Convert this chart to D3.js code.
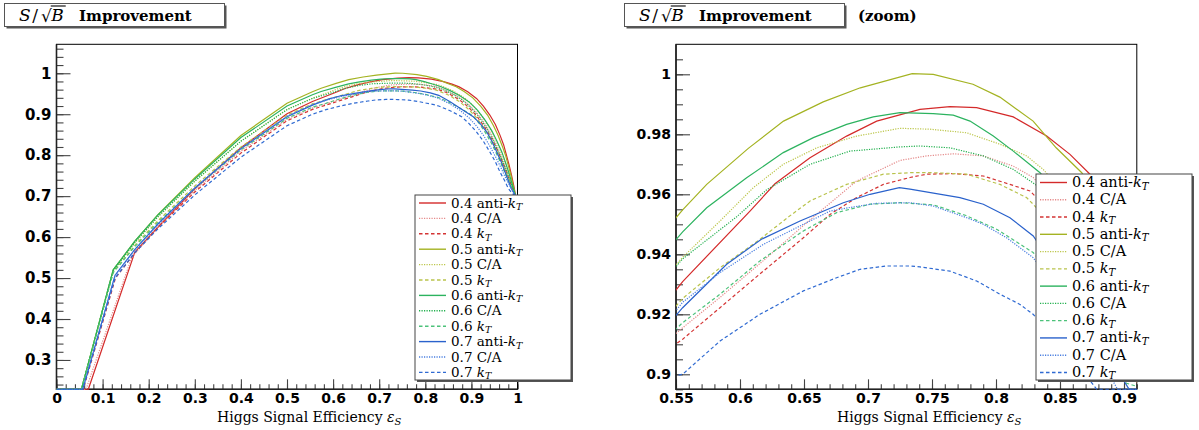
<!DOCTYPE html>
<html><head><meta charset="utf-8">
<script src="https://cdn.jsdelivr.net/npm/d3@7"></script>
<style>body{margin:0;background:#fff}svg{display:block}</style>
</head><body>
<svg id="c" width="1199" height="430"></svg>
<script>
// ---------- DATA ----------
const radii = ["0.4","0.4","0.4","0.5","0.5","0.5","0.6","0.6","0.6","0.7","0.7","0.7"];
const algos = ["anti","CA","kt","anti","CA","kt","anti","CA","kt","anti","CA","kt"];

const s04anti = [[0,0],[0.069,0],[0.17,0.5636],[0.224,0.629],[0.3,0.718],[0.4,0.818],[0.5,0.901],[0.5552,0.9309],[0.6078,0.9544],[0.6273,0.9635],[0.6547,0.9722],[0.6833,0.9794],[0.7068,0.9844],[0.7406,0.9883],[0.764,0.9892],[0.7849,0.9889],[0.8135,0.9858],[0.8396,0.9794],[0.8578,0.9733],[0.8734,0.9667],[0.892,0.955],[0.911,0.9386],[0.926,0.92],[0.94,0.898],[0.952,0.875],[0.962,0.849],[0.97,0.825],[0.976,0.80],[0.982,0.775],[0.987,0.751],[0.992,0.725],[0.996,0.70]];
const s04ca = [[0,0],[0.064,0],[0.163,0.55],[0.22,0.625],[0.3,0.714],[0.4,0.81],[0.5,0.888],[0.5552,0.9155],[0.584,0.9255],[0.618,0.9378],[0.652,0.9505],[0.691,0.9644],[0.725,0.9713],[0.7458,0.9728],[0.7666,0.9735],[0.7901,0.9728],[0.8135,0.9694],[0.8291,0.9656],[0.85,0.956],[0.872,0.943],[0.893,0.925],[0.912,0.903],[0.928,0.879],[0.942,0.853],[0.954,0.826],[0.964,0.80],[0.973,0.774],[0.981,0.748],[0.989,0.724],[0.996,0.70]];
const s04kt = [[0,0],[0.058,0],[0.128,0.50],[0.17,0.562],[0.22,0.624],[0.3,0.71],[0.4,0.805],[0.5,0.884],[0.5552,0.9117],[0.5844,0.9222],[0.6182,0.9344],[0.6495,0.9455],[0.6703,0.9533],[0.6911,0.9589],[0.712,0.9633],[0.7328,0.9656],[0.7458,0.9667],[0.7666,0.9669],[0.7901,0.9661],[0.8109,0.9633],[0.8266,0.9611],[0.85,0.951],[0.873,0.936],[0.894,0.917],[0.912,0.895],[0.928,0.87],[0.942,0.844],[0.954,0.818],[0.964,0.792],[0.973,0.767],[0.981,0.743],[0.989,0.72],[0.996,0.70]];
const s05anti = [[0,0],[0.054,0],[0.123,0.52],[0.17,0.59],[0.22,0.655],[0.3,0.745],[0.4,0.848],[0.5,0.927],[0.5552,0.9548],[0.574,0.9633],[0.6065,0.9753],[0.634,0.9844],[0.665,0.9908],[0.694,0.9955],[0.7345,1.0002],[0.751,1.0],[0.782,0.9967],[0.803,0.9924],[0.829,0.9844],[0.847,0.9755],[0.867,0.9672],[0.885,0.955],[0.903,0.94],[0.92,0.92],[0.935,0.898],[0.948,0.872],[0.958,0.848],[0.967,0.822],[0.974,0.80],[0.98,0.775],[0.986,0.75],[0.991,0.724],[0.996,0.70]];
const s05ca = [[0,0],[0.054,0],[0.123,0.518],[0.17,0.586],[0.22,0.649],[0.3,0.736],[0.4,0.834],[0.5,0.912],[0.5552,0.939],[0.5844,0.9511],[0.6104,0.9622],[0.6338,0.97],[0.66,0.9755],[0.6911,0.9794],[0.725,0.982],[0.7484,0.9817],[0.7771,0.9805],[0.8031,0.9767],[0.8239,0.9728],[0.8369,0.9683],[0.86,0.957],[0.885,0.94],[0.905,0.92],[0.922,0.897],[0.937,0.872],[0.95,0.845],[0.96,0.82],[0.969,0.795],[0.977,0.77],[0.984,0.745],[0.99,0.722],[0.996,0.70]];
const s05kt = [[0,0],[0.054,0],[0.123,0.515],[0.17,0.58],[0.22,0.64],[0.3,0.725],[0.4,0.82],[0.5,0.898],[0.5552,0.9253],[0.5844,0.9355],[0.6156,0.945],[0.638,0.9525],[0.6547,0.9578],[0.6833,0.9633],[0.712,0.9667],[0.7328,0.9672],[0.751,0.9672],[0.7771,0.9667],[0.8031,0.9633],[0.8239,0.9589],[0.829,0.9567],[0.852,0.946],[0.875,0.93],[0.895,0.911],[0.913,0.889],[0.929,0.864],[0.943,0.838],[0.955,0.811],[0.965,0.786],[0.974,0.761],[0.982,0.738],[0.989,0.718],[0.996,0.70]];
const s06anti = [[0,0],[0.054,0],[0.123,0.52],[0.17,0.59],[0.22,0.654],[0.3,0.742],[0.4,0.843],[0.5,0.92],[0.5552,0.9475],[0.574,0.9555],[0.6052,0.9655],[0.6338,0.9739],[0.6573,0.9789],[0.6833,0.9833],[0.7041,0.9858],[0.725,0.9872],[0.751,0.9869],[0.7666,0.9864],[0.7797,0.9844],[0.7979,0.9794],[0.8135,0.9744],[0.8344,0.9672],[0.855,0.957],[0.875,0.945],[0.895,0.93],[0.913,0.91],[0.93,0.885],[0.944,0.86],[0.956,0.833],[0.966,0.808],[0.974,0.782],[0.981,0.758],[0.987,0.735],[0.992,0.716],[0.996,0.70]];
const s06ca = [[0,0],[0.054,0],[0.123,0.518],[0.17,0.587],[0.22,0.65],[0.3,0.737],[0.4,0.834],[0.5,0.911],[0.5552,0.9385],[0.5974,0.9525],[0.6208,0.9615],[0.6547,0.97],[0.6859,0.9744],[0.725,0.9758],[0.7406,0.9761],[0.764,0.9755],[0.7901,0.9728],[0.8135,0.9683],[0.8344,0.9622],[0.858,0.95],[0.88,0.935],[0.9,0.915],[0.917,0.893],[0.932,0.868],[0.945,0.842],[0.956,0.816],[0.966,0.79],[0.975,0.765],[0.983,0.74],[0.99,0.72],[0.996,0.70]];
const s06kt = [[0,0],[0.054,0],[0.123,0.513],[0.17,0.577],[0.22,0.636],[0.3,0.719],[0.4,0.813],[0.5,0.89],[0.5552,0.9172],[0.5844,0.9267],[0.6156,0.9378],[0.6495,0.9478],[0.6755,0.9539],[0.7016,0.9567],[0.725,0.9572],[0.751,0.9565],[0.776,0.953],[0.8,0.9485],[0.829,0.9406],[0.852,0.929],[0.875,0.915],[0.902,0.897],[0.918,0.876],[0.932,0.852],[0.945,0.826],[0.956,0.80],[0.966,0.775],[0.975,0.751],[0.983,0.73],[0.99,0.714],[0.996,0.70]];
const s07anti = [[0,0],[0.057,0],[0.127,0.507],[0.17,0.57],[0.22,0.632],[0.3,0.72],[0.4,0.816],[0.5,0.894],[0.5552,0.9222],[0.5896,0.9367],[0.6167,0.945],[0.6469,0.9511],[0.6807,0.9572],[0.7016,0.96],[0.7245,0.9622],[0.7328,0.9617],[0.7718,0.9589],[0.7901,0.9567],[0.8109,0.9522],[0.8291,0.9461],[0.853,0.931],[0.878,0.913],[0.904,0.894],[0.92,0.876],[0.933,0.857],[0.945,0.833],[0.955,0.808],[0.965,0.783],[0.973,0.759],[0.98,0.738],[0.986,0.72],[0.996,0.70]];
const s07ca = [[0,0],[0.057,0],[0.127,0.505],[0.17,0.568],[0.22,0.63],[0.3,0.719],[0.4,0.816],[0.5,0.895],[0.5552,0.924],[0.5844,0.9339],[0.6182,0.9433],[0.6495,0.95],[0.6703,0.9544],[0.6859,0.9556],[0.7068,0.957],[0.7328,0.9572],[0.751,0.9561],[0.7771,0.9522],[0.7901,0.95],[0.8083,0.9455],[0.829,0.9389],[0.852,0.926],[0.875,0.91],[0.895,0.891],[0.912,0.87],[0.927,0.847],[0.94,0.822],[0.952,0.797],[0.963,0.772],[0.972,0.75],[0.981,0.73],[0.989,0.713],[0.996,0.70]];
const s07kt = [[0,0],[0.057,0],[0.127,0.50],[0.17,0.562],[0.22,0.62],[0.3,0.703],[0.4,0.795],[0.5,0.872],[0.5552,0.90],[0.5844,0.9111],[0.6156,0.92],[0.6495,0.9278],[0.6755,0.9322],[0.6938,0.935],[0.7146,0.9361],[0.7328,0.9361],[0.7406,0.9358],[0.764,0.9344],[0.7849,0.9311],[0.8031,0.9267],[0.8187,0.9233],[0.829,0.92],[0.855,0.908],[0.8787,0.894],[0.895,0.877],[0.911,0.857],[0.926,0.834],[0.94,0.808],[0.952,0.784],[0.962,0.759],[0.972,0.738],[0.98,0.719],[0.988,0.707],[0.996,0.70]];

const seriesData = [s04anti,s04ca,s04kt,s05anti,s05ca,s05kt,s06anti,s06ca,s06kt,s07anti,s07ca,s07kt];

const leftXTicks = [0,0.1,0.2,0.3,0.4,0.5,0.6,0.7,0.8,0.9,1];
const leftXLabels = ["0","0.1","0.2","0.3","0.4","0.5","0.6","0.7","0.8","0.9","1"];
const leftYTicks = [0.3,0.4,0.5,0.6,0.7,0.8,0.9,1];
const leftYLabels = ["0.3","0.4","0.5","0.6","0.7","0.8","0.9","1"];
const rightXTicks = [0.55,0.6,0.65,0.7,0.75,0.8,0.85,0.9];
const rightXLabels = ["0.55","0.6","0.65","0.7","0.75","0.8","0.85","0.9"];
const rightYTicks = [0.9,0.92,0.94,0.96,0.98,1];
const rightYLabels = ["0.9","0.92","0.94","0.96","0.98","1"];

// ---------- STYLES ----------
const colors = ["#d42a2a","#e58a8a","#d43434","#a4b322","#bcc64a","#b9c34c","#2cb35f","#22b04e","#4cc27a","#2a62cc","#4a7fe0","#2f6ad2"];
const dashes = ["none","1.2,1.3","3.5,2.5","none","1.2,1.3","3.5,2.5","none","1.2,1.3","3.5,2.5","none","1.2,1.3","3.5,2.5"];
const SERIF = "'DejaVu Serif', serif";
const SANS = "'DejaVu Sans', sans-serif";

const svg = d3.select("#c");
const defs = svg.append("defs");

function panel(o) {
  const x = d3.scaleLinear().domain(o.xDomain).range([o.x0, o.x1]);
  const y = d3.scaleLinear().domain(o.yDomain).range([o.y1, o.y0]).clamp(true);
  defs.append("clipPath").attr("id", o.id).append("rect")
    .attr("x", o.x0).attr("y", o.y0 - 0.5).attr("width", o.x1 - o.x0).attr("height", o.y1 - o.y0 + 1);
  const g = svg.append("g");
  const xMinor = d3.axisBottom(x).tickValues(o.xMinor).tickSizeInner(-5).tickSizeOuter(0).tickFormat("");
  const yMinor = d3.axisLeft(y).tickValues(o.yMinor).tickSizeInner(-7).tickSizeOuter(0).tickFormat("");
  const xMajor = d3.axisBottom(x).tickValues(o.xTicks).tickFormat((d, i) => o.xLabels[i]).tickSizeInner(-10).tickSizeOuter(0).tickPadding(4);
  const yMajor = d3.axisLeft(y).tickValues(o.yTicks).tickFormat((d, i) => o.yLabels[i]).tickSizeInner(-14).tickSizeOuter(0).tickPadding(5);
  [[xMinor, "x"], [xMajor, "x"], [yMinor, "y"], [yMajor, "y"]].forEach(([ax, k]) => {
    const a = g.append("g").attr("transform", k === "x" ? `translate(0,${o.y1})` : `translate(${o.x0},0)`).call(ax);
    a.select(".domain").remove();
    a.selectAll("line").attr("stroke", "#444").attr("stroke-width", 1.1);
    a.selectAll("text").attr("fill", "#000").style("font-family", SANS).style("font-weight", "bold")
      .style("font-size", (k === "x" ? o.xFont : o.yFont) + "px");
  });
  g.append("rect").attr("x", o.x0).attr("y", o.y0).attr("width", o.x1 - o.x0).attr("height", o.y1 - o.y0)
    .attr("fill", "none").attr("stroke", "#000").attr("stroke-width", 1);
  g.append("path").attr("d", `M${o.x0},${o.y0}V${o.y1}H${o.x1}`).attr("fill", "none").attr("stroke", "#222").attr("stroke-width", 1.6);
  const line = d3.line().x(d => x(d[0])).y(d => y(d[1]));
  const cg = g.append("g").attr("clip-path", `url(#${o.id})`);
  seriesData.forEach((s, i) => {
    cg.append("path").attr("d", line(s)).attr("fill", "none")
      .attr("stroke", colors[i]).attr("stroke-width", 1.2)
      .attr("stroke-dasharray", dashes[i]);
  });
  const t = g.append("text").attr("x", o.titleX).attr("y", 421.5).style("font-family", SERIF).style("font-size", "14px").attr("fill", "#000");
  t.append("tspan").text("Higgs Signal Efficiency ");
  t.append("tspan").style("font-style", "italic").text("ε");
  t.append("tspan").style("font-style", "italic").style("font-size", "10px").attr("dy", 3).text("S");
}

function titleBox(bx, by, bw, bh) {
  svg.append("rect").attr("x", bx + 2).attr("y", by + 2).attr("width", bw).attr("height", bh).attr("fill", "#555");
  svg.append("rect").attr("x", bx).attr("y", by).attr("width", bw).attr("height", bh).attr("fill", "#fff").attr("stroke", "#555").attr("stroke-width", 1);
  const base = by + 17;
  let cx = bx + 14.5;
  const fs = "17px";
  const tS = svg.append("text").attr("x", cx).attr("y", base).style("font-family", SERIF).style("font-size", fs).style("font-style", "italic").text("S");
  cx += tS.node().getComputedTextLength() + 1.5;
  const tSl = svg.append("text").attr("x", cx).attr("y", base).style("font-family", SERIF).style("font-size", fs).text("/");
  cx += tSl.node().getComputedTextLength() + 3;
  const tR = svg.append("text").attr("x", cx).attr("y", base + 1.5).style("font-family", SERIF).style("font-size", fs).text("√");
  cx += tR.node().getComputedTextLength() - 0.5;
  const tB = svg.append("text").attr("x", cx).attr("y", base).style("font-family", SERIF).style("font-size", fs).style("font-style", "italic").text("B");
  const wB = tB.node().getComputedTextLength();
  svg.append("line").attr("x1", cx - 0.5).attr("x2", cx + wB + 2).attr("y1", base - 14.5).attr("y2", base - 14.5).attr("stroke", "#000").attr("stroke-width", 1.1);
  svg.append("text").attr("x", bx + 74.5).attr("y", base).style("font-family", SERIF).style("font-size", "15px").style("font-weight", "bold").text("Improvement");
}

function legend(bx, by, bw, bh, firstY, rowH, fsz) {
  const g = svg.append("g");
  g.append("rect").attr("x", bx + 2).attr("y", by + 2).attr("width", bw).attr("height", bh).attr("fill", "#555");
  g.append("rect").attr("x", bx).attr("y", by).attr("width", bw).attr("height", bh).attr("fill", "#fff").attr("stroke", "#444").attr("stroke-width", 1);
  seriesData.forEach((s, i) => {
    const yy = firstY + i * rowH;
    g.append("line").attr("x1", bx + 4).attr("x2", bx + 31).attr("y1", yy).attr("y2", yy)
      .attr("stroke", colors[i]).attr("stroke-width", 1.4).attr("stroke-dasharray", dashes[i]);
    const t = g.append("text").attr("x", bx + 36).attr("y", yy + 4.5).style("font-family", SERIF).style("font-size", fsz + "px").attr("fill", "#000");
    t.append("tspan").text(radii[i] + " ");
    if (algos[i] === "CA") { t.append("tspan").text("C/A"); }
    else {
      if (algos[i] === "anti") t.append("tspan").text("anti-");
      t.append("tspan").style("font-style", "italic").text("k");
      t.append("tspan").style("font-style", "italic").style("font-size", (fsz * 0.7) + "px").attr("dy", 2.5).text("T");
    }
  });
}

panel({id: "clipL", xDomain: [0, 1], yDomain: [0.2284, 1.0707], x0: 56.5, x1: 517.5, y0: 44.3, y1: 389.3,
  xTicks: leftXTicks, xLabels: leftXLabels, yTicks: leftYTicks, yLabels: leftYLabels,
  xMinor: d3.range(0, 1.0001, 0.02), yMinor: d3.range(0.24, 1.07, 0.02), xFont: 14, yFont: 15, titleX: 217});
panel({id: "clipR", xDomain: [0.55, 0.91], yDomain: [0.895, 1.01], x0: 676, x1: 1136.8, y0: 44.3, y1: 389.3,
  xTicks: rightXTicks, xLabels: rightXLabels, yTicks: rightYTicks, yLabels: rightYLabels,
  xMinor: d3.range(0.55, 0.9101, 0.01), yMinor: d3.range(0.895, 1.0076, 0.005), xFont: 14, yFont: 14, titleX: 837});

titleBox(4.5, 3.5, 220, 23);
titleBox(624.5, 3.5, 220, 23);
svg.append("text").attr("x", 858).attr("y", 20.5).style("font-family", SERIF).style("font-size", "15px").style("font-weight", "bold").text("(zoom)");

legend(415, 195, 156, 185, 203, 15.4, 13.5);
legend(1036, 174, 156, 206, 182.5, 17.27, 14.5);
</script>
</body></html>
